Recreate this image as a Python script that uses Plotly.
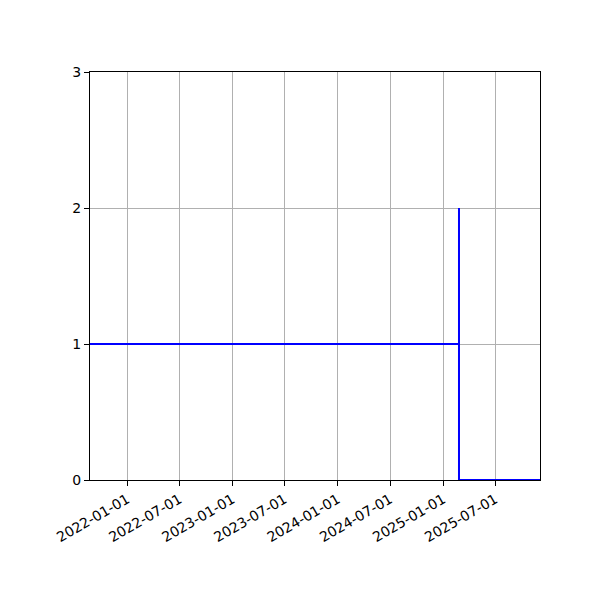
import plotly.graph_objects as go

# step series: flat at 1, a spike to 2, then drop to 0
dates = ["2021-08-25", "2025-02-25", "2025-02-25", "2025-02-25", "2025-12-03"]
values = [1, 1, 2, 0, 0]

tick_dates = ["2022-01-01", "2022-07-01", "2023-01-01", "2023-07-01",
              "2024-01-01", "2024-07-01", "2025-01-01", "2025-07-01"]
y_ticks = [0, 1, 2, 3]

fig = go.Figure()
fig.add_trace(go.Scatter(
    x=dates,
    y=values,
    mode="lines",
    line=dict(color="blue", width=2),
    cliponaxis=False,
    showlegend=False,
))

axis_style = dict(
    showline=True,
    linecolor="black",
    linewidth=1,
    mirror=True,
    showgrid=True,
    gridcolor="#b0b0b0",
    gridwidth=1,
    ticks="outside",
    ticklen=5,
    tickcolor="black",
    zeroline=False,
    layer="below traces",
    tickfont=dict(family="DejaVu Sans", size=14, color="black"),
)

fig.update_xaxes(
    range=[dates[0], dates[-1]],
    tickvals=tick_dates,
    ticktext=tick_dates,
    tickangle=-30,
    **axis_style,
)
fig.update_yaxes(
    range=[0, 3],
    tickvals=y_ticks,
    **axis_style,
)

fig.update_layout(
    width=600,
    height=600,
    margin=dict(l=82, r=68, t=64, b=128),
    plot_bgcolor="white",
    paper_bgcolor="white",
)

fig.write_html("out.html")
